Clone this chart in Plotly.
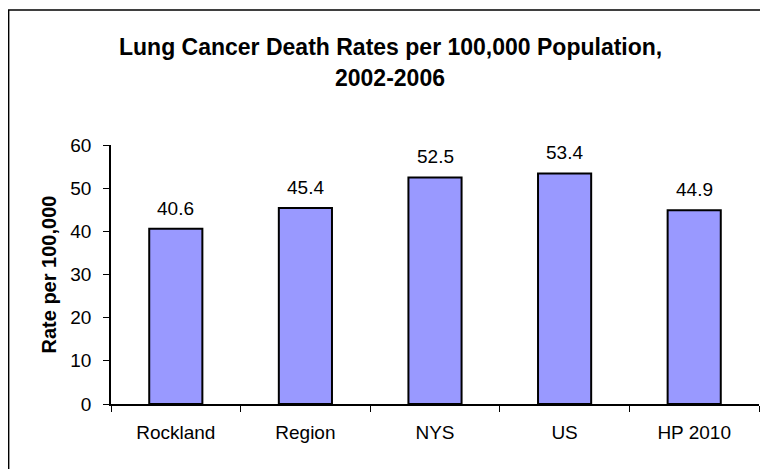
import plotly.graph_objects as go

categories = ["Rockland", "Region", "NYS", "US", "HP 2010"]
rates = [40.6, 45.4, 52.5, 53.4, 44.9]
y_ticks = [0, 10, 20, 30, 40, 50, 60]
title_lines = ["Lung Cancer Death Rates per 100,000 Population,", "2002-2006"]
y_title = "Rate per 100,000"

FONT = "Arial, Liberation Sans, sans-serif"
# page body has an 8px margin, so figure origin sits at (8, 8) on screen
W, H = 760, 461
L, R, T, B = 103, 9, 137, 65
pw, ph = W - L - R, H - T - B

fig = go.Figure(go.Bar(
    x=categories, y=rates, width=0.41,
    marker=dict(color="#9999FF", line=dict(color="black", width=2)),
))

annotations = []
for c, v in zip(categories, rates):
    annotations.append(dict(x=c, y=v, xref="x", yref="y", text=f"{v:.1f}",
                            showarrow=False, yanchor="bottom", yshift=8,
                            font=dict(family=FONT, size=19, color="black")))
title_y = [39, 70]
for txt, yy in zip(title_lines, title_y):
    annotations.append(dict(x=(382 - L) / pw, y=1 + (T - yy) / ph, xref="paper", yref="paper",
                            text=f"<b>{txt}</b>", showarrow=False, xanchor="center", yanchor="middle",
                            font=dict(family=FONT, size=23, color="black")))
annotations.append(dict(x=(40 - L) / pw, y=0.5, xref="paper", yref="paper", text=f"<b>{y_title}</b>",
                        textangle=-90, showarrow=False, xanchor="center", yanchor="middle",
                        font=dict(family=FONT, size=20, color="black")))

fig.update_layout(
    width=W, height=H,
    margin=dict(l=L, r=R, t=T, b=B, pad=0),
    paper_bgcolor="white", plot_bgcolor="white",
    showlegend=False,
    annotations=annotations,
    shapes=[dict(type="rect", xref="paper", yref="paper",
                 x0=-L / pw + 0.001, x1=1.2, y0=-0.6, y1=1 + (T - 2) / ph,
                 line=dict(color="black", width=1.5), fillcolor="rgba(0,0,0,0)", layer="below")],
)
fig.update_xaxes(
    range=[-0.5, 4.5], showline=True, linecolor="black", linewidth=1.5,
    ticks="outside", tickson="boundaries", ticklen=6, tickcolor="black", tickwidth=1,
    tickfont=dict(family=FONT, size=19, color="black"), ticklabelstandoff=10,
    showgrid=False, zeroline=False, fixedrange=True,
)
fig.update_yaxes(
    range=[0, 60], tickvals=y_ticks, showline=True, linecolor="black", linewidth=1.5,
    ticks="outside", ticklen=6, tickcolor="black", tickwidth=1,
    tickfont=dict(family=FONT, size=19, color="black"), ticklabelstandoff=8,
    showgrid=False, zeroline=False, fixedrange=True,
)

fig.write_html("out.html")
